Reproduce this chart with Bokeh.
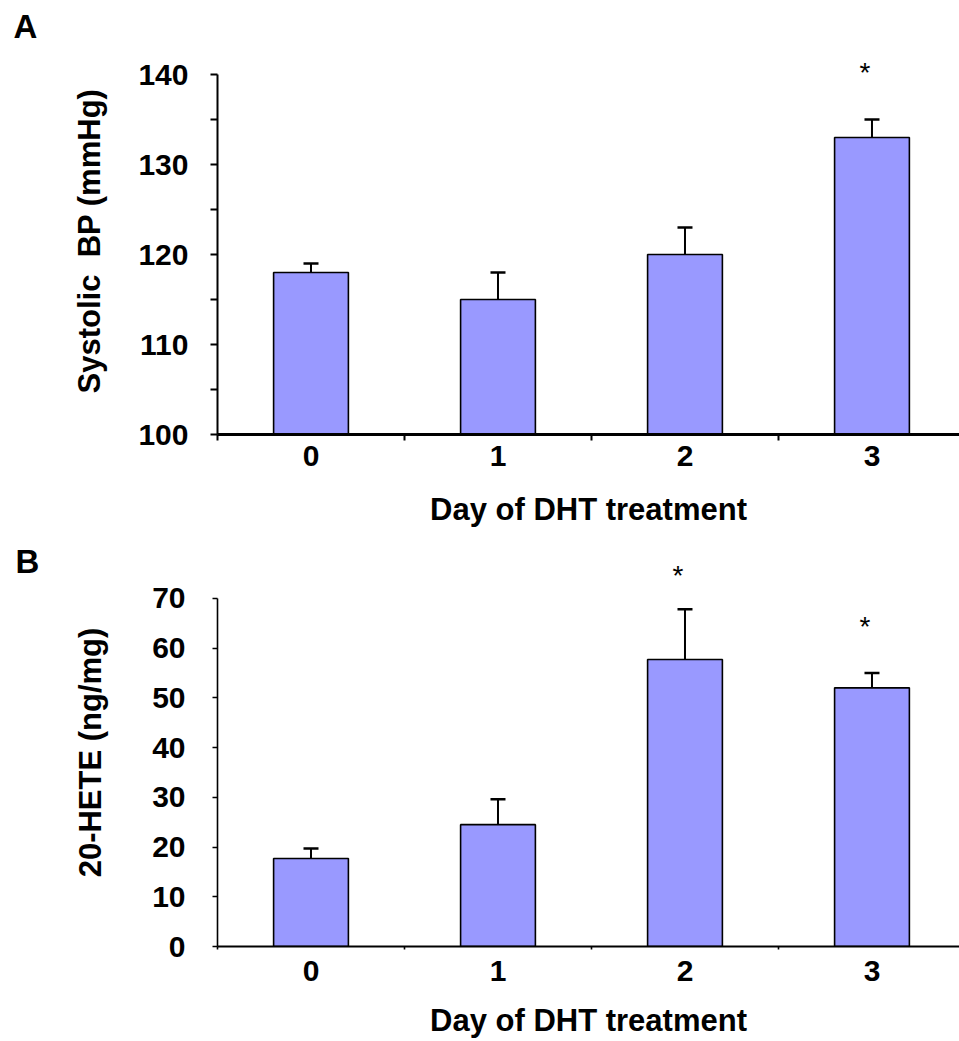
from bokeh.plotting import figure
from bokeh.models import Range1d, FixedTicker, Whisker, TeeHead, ColumnDataSource
from bokeh.layouts import column
from bokeh.embed import file_html
from bokeh.resources import INLINE
from bokeh.core.properties import value

# ---------------- data ----------------
days = [0, 1, 2, 3]

sbp_mean = [118, 115, 120, 133]
sbp_upper = [119, 118, 123, 135]
sbp_sig_day = [3]
sbp_sig_y = [140.6]
sbp_ticks = [100, 110, 120, 130, 140]
sbp_minor = [105, 115, 125, 135]

hete_mean = [17.7, 24.5, 57.7, 52.0]
hete_upper = [19.7, 29.6, 67.8, 55.0]
hete_sig_day = [2, 3]
hete_sig_y = [75.2, 65.0]
hete_ticks = [0, 10, 20, 30, 40, 50, 60, 70]

FONT = "Liberation Sans"
BAR_COLOR = "#9999FF"
W = 959


def panel(letter, means, uppers, sig_day, sig_y, ticks, minor, y_end, ylabel,
          height, border_top, border_bottom, border_left, axis_w, xaxis_w,
          ytick_out, xtick_out, ylab_standoff, ytitle_standoff,
          xlab_standoff, xtitle_standoff, letter_offset, letter_standoff):
    y0, y1 = ticks[0], ticks[-1]
    p = figure(width=W, height=height, output_backend="svg", toolbar_location=None,
               x_range=Range1d(-0.5, 3.468), y_range=Range1d(y0, y_end),
               min_border_left=border_left, min_border_top=border_top,
               min_border_right=0, min_border_bottom=border_bottom)
    p.outline_line_color = None
    p.xgrid.visible = False
    p.ygrid.visible = False
    p.background_fill_color = "white"
    p.border_fill_color = "white"

    # panel letter as a left-aligned title
    p.title.text = letter
    p.title.align = "left"
    p.title.vertical_align = "bottom"
    p.title.offset = letter_offset
    p.title.standoff = letter_standoff
    p.title.text_font = FONT
    p.title.text_font_style = "bold"
    p.title.text_font_size = "33px"
    p.title.text_color = "black"

    p.vbar(x=days, top=means, bottom=y0, width=0.4, fill_color=BAR_COLOR,
           line_color="black", line_width=1.6)

    src = ColumnDataSource(dict(base=days, lower=means, upper=uppers))
    p.add_layout(Whisker(base="base", lower="lower", upper="upper", source=src,
                         dimension="height", line_width=2, line_color="black",
                         upper_head=TeeHead(size=15, line_width=2.5, line_color="black"),
                         lower_head=None, level="overlay"))

    p.text(x=sig_day, y=sig_y, text=["*"] * len(sig_day), text_font=value(FONT),
           text_font_size="28px", text_align="center", text_baseline="middle",
           x_offset=-7, y_offset=3, text_color="black")

    # y axis
    ya = p.yaxis[0]
    ya.ticker = FixedTicker(ticks=ticks, minor_ticks=minor)
    ya.bounds = (y0, y1)
    ya.axis_line_width = axis_w
    ya.major_tick_line_width = axis_w
    ya.minor_tick_line_width = axis_w
    ya.major_tick_out = ytick_out
    ya.major_tick_in = 0
    ya.minor_tick_out = ytick_out
    ya.minor_tick_in = 0
    ya.major_label_text_font = FONT
    ya.major_label_text_font_style = "bold"
    ya.major_label_text_font_size = "30px"
    ya.major_label_text_color = "black"
    ya.major_label_standoff = ylab_standoff
    ya.axis_label = ylabel
    ya.axis_label_text_font = FONT
    ya.axis_label_text_font_style = "bold"
    ya.axis_label_text_font_size = "31px"
    ya.axis_label_text_color = "black"
    ya.axis_label_standoff = ytitle_standoff

    # x axis
    xa = p.xaxis[0]
    xa.ticker = FixedTicker(ticks=days, minor_ticks=[d - 0.5 for d in days])
    xa.axis_line_width = xaxis_w
    xa.major_tick_out = 0
    xa.major_tick_in = 0
    xa.minor_tick_out = xtick_out
    xa.minor_tick_in = 0
    xa.minor_tick_line_width = axis_w
    xa.major_label_text_font = FONT
    xa.major_label_text_font_style = "bold"
    xa.major_label_text_font_size = "30px"
    xa.major_label_text_color = "black"
    xa.major_label_standoff = xlab_standoff
    xa.axis_label = "Day of DHT treatment"
    xa.axis_label_text_font = FONT
    xa.axis_label_text_font_style = "bold"
    xa.axis_label_text_font_size = "31px"
    xa.axis_label_text_color = "black"
    xa.axis_label_standoff = xtitle_standoff
    return p


pA = panel("A", sbp_mean, sbp_upper, sbp_sig_day, sbp_sig_y, sbp_ticks, sbp_minor,
           143, "Systolic\u00a0 BP (mmHg)", height=532, border_top=47, border_bottom=98,
           border_left=217, axis_w=2, xaxis_w=3, ytick_out=7, xtick_out=6,
           ylab_standoff=22, ytitle_standoff=28, xlab_standoff=5, xtitle_standoff=23,
           letter_offset=-204, letter_standoff=6)

pB = panel("B", hete_mean, hete_upper, hete_sig_day, hete_sig_y, hete_ticks, [],
           78, "20-HETE (ng/mg)", height=509, border_top=26, border_bottom=95,
           border_left=215, axis_w=1.6, xaxis_w=2, ytick_out=5, xtick_out=3,
           ylab_standoff=27, ytitle_standoff=41, xlab_standoff=11, xtitle_standoff=19,
           letter_offset=-202, letter_standoff=-42)

layout = column(pA, pB, spacing=0)
open("out.html", "w").write(file_html(layout, INLINE))
